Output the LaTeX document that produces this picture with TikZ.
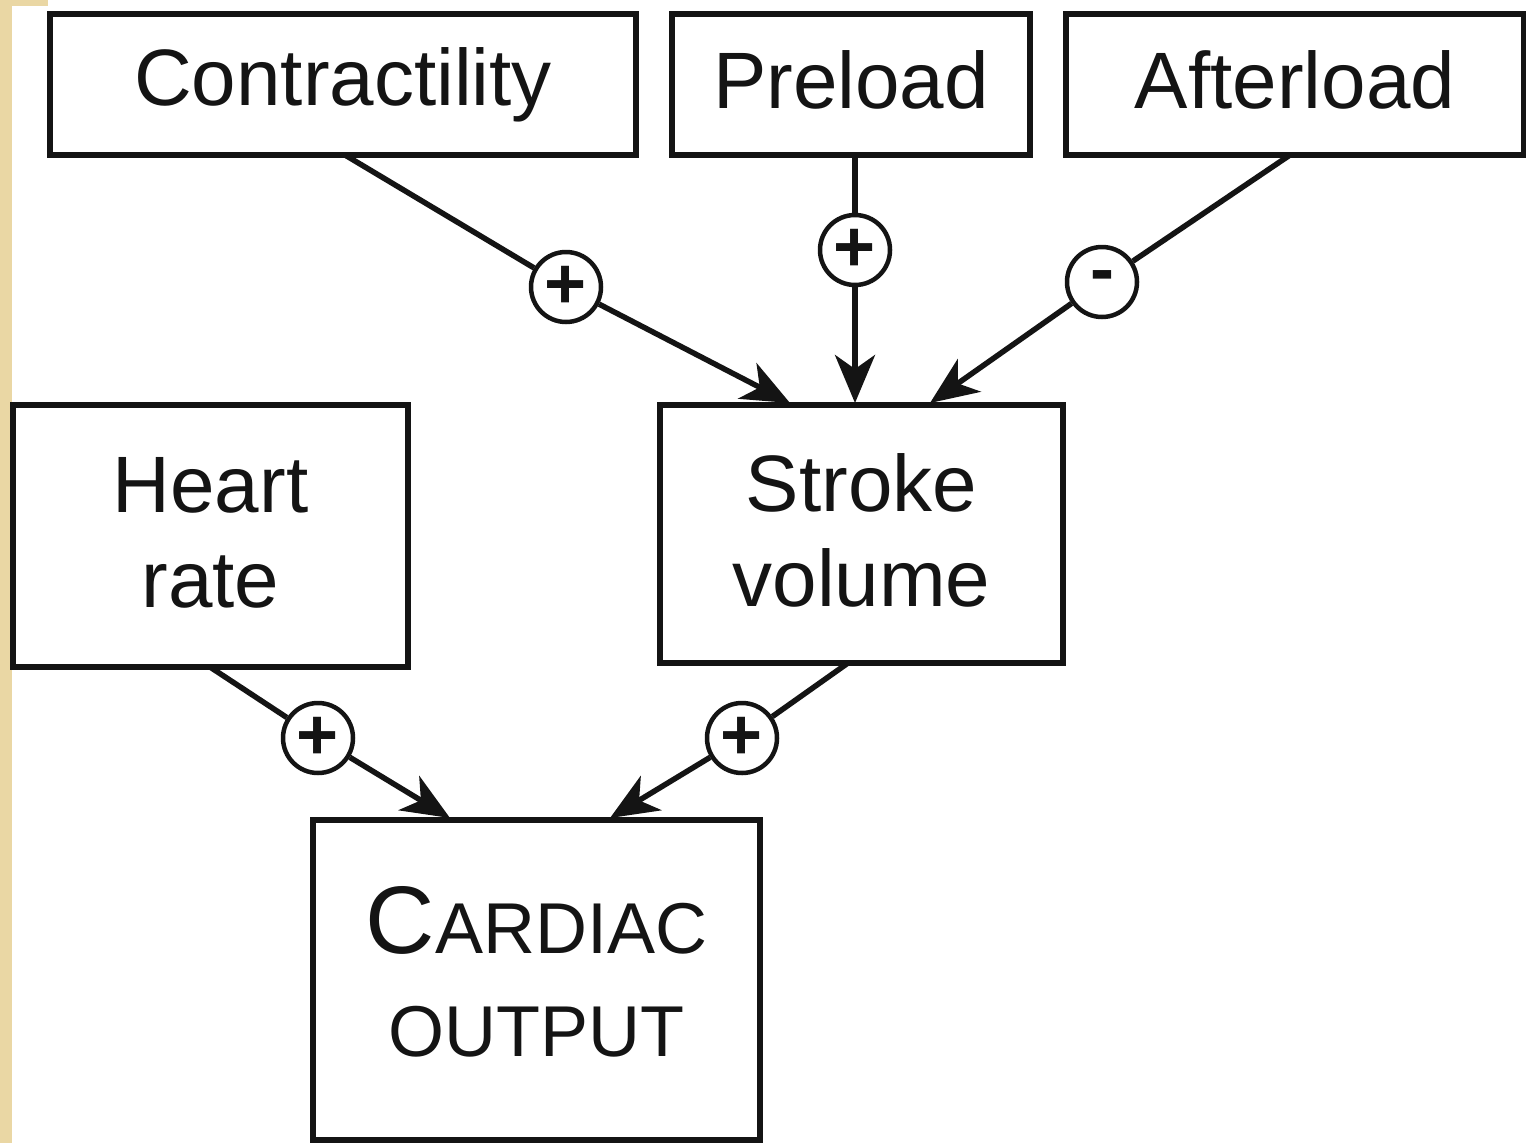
\documentclass[tikz,border=0pt]{standalone}
\usepackage{fontspec}
\setmainfont{Liberation Sans}
\usetikzlibrary{arrows.meta}
\definecolor{paper}{HTML}{EAD7A4}
\definecolor{ink}{HTML}{141414}
\begin{document}
\begin{tikzpicture}[x=1pt,y=-1pt,
  box/.style={draw=ink,line width=6pt,fill=white,inner sep=0pt,align=center,
              font=\fontsize{80}{95}\selectfont,text=ink},
  sign/.style={draw=ink,circle,line width=4.5pt,fill=white,minimum size=70pt,
               inner sep=0pt,font=\bfseries\fontsize{72}{72}\selectfont,text=ink},
  link/.style={draw=ink,line width=5.5pt},
  arrow/.style={link,-{Stealth[length=48pt,width=40pt,inset=14pt]}}]
% page and the patterned strip along the left edge
\fill[white] (0,0) rectangle (1526,1143);
\fill[paper] (0,0) rectangle (12,1143);
\fill[paper] (0,0) rectangle (48,6);
\useasboundingbox (0,0) rectangle (1526,1143);

% boxes
\node[box,minimum width=586pt,minimum height=141pt] (con) at (343,84.5) {Contractility};
\node[box,minimum width=358pt,minimum height=141pt,text depth=10pt] (pre) at (851,84.5) {Preload};
\node[box,minimum width=458pt,minimum height=141pt,text depth=10pt] (aft) at (1295,84.5) {Afterload};
\node[box,minimum width=395pt,minimum height=262pt,text depth=8pt] (hr) at (210.5,536) {Heart\\rate};
\node[box,minimum width=403pt,minimum height=258pt,text depth=8pt] (sv) at (861.5,534) {Stroke\\volume};
\node[box,minimum width=447pt,minimum height=320pt,text depth=18pt,
      font=\fontsize{72}{103}\selectfont]
  (co) at (536.5,980) {{\fontsize{96}{96}\selectfont C}ARDIAC\\OUTPUT};

% points where the connectors meet the boxes
\coordinate (con-out) at (345,155);
\coordinate (pre-out) at (855,155);
\coordinate (aft-out) at (1290,155);
\coordinate (sv-in1) at (790,403);
\coordinate (sv-in2) at (855,403);
\coordinate (sv-in3) at (930,403);
\coordinate (hr-out) at (210,667);
\coordinate (sv-out) at (848,663);
\coordinate (co-in1) at (450,818);
\coordinate (co-in2) at (610,818);

% sign markers
\node[sign] (s1) at (566,287) {+};
\node[sign] (s2) at (855,250) {+};
\node[sign] (s3) at (1102,282) {-};
\node[sign] (s4) at (318,738) {+};
\node[sign] (s5) at (742,738) {+};

% connectors
\draw[link] (con-out) -- (s1);
\draw[arrow] (s1) -- (sv-in1);
\draw[link] (pre-out) -- (s2);
\draw[arrow] (s2) -- (sv-in2);
\draw[link] (aft-out) -- (s3);
\draw[arrow] (s3) -- (sv-in3);
\draw[link] (hr-out) -- (s4);
\draw[arrow] (s4) -- (co-in1);
\draw[link] (sv-out) -- (s5);
\draw[arrow] (s5) -- (co-in2);
\end{tikzpicture}
\end{document}
